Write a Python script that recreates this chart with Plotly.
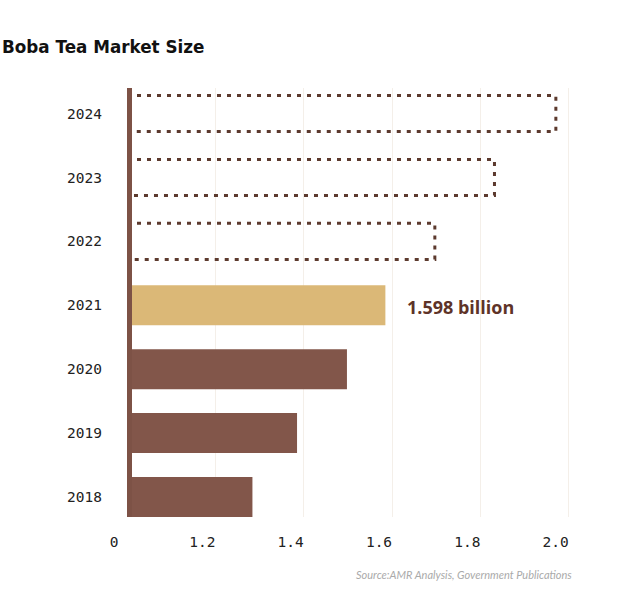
import plotly.graph_objects as go

years = ["2018", "2019", "2020", "2021", "2022", "2023", "2024"]
values = [1.284, 1.385, 1.498, 1.585, 1.697, 1.832, 1.971]
projected = [False, False, False, False, True, True, True]
bar_colors = ["#82564a", "#82564a", "#82564a", "#dbb877"]
tick_vals = [1.0, 1.2, 1.4, 1.6, 1.8, 2.0]
tick_text = ["0", "1.2", "1.4", "1.6", "1.8", "2.0"]
highlight_label = "1.598 billion"
title = "Boba Tea Market Size"
source = "Source:AMR Analysis, Government Publications"

DOT = "#5c3a2e"
BAR_W = 0.626
RECT_H = 0.282

idx = list(range(len(years)))
actual_idx = [i for i in idx if not projected[i]]
proj_idx = [i for i in idx if projected[i]]

fig = go.Figure()
fig.add_trace(go.Bar(
    y=actual_idx, x=[values[i] for i in actual_idx], orientation="h",
    marker=dict(color=bar_colors, line=dict(width=0)), width=BAR_W,
    hoverinfo="skip", showlegend=False,
))
for i in proj_idx:
    v = values[i]
    fig.add_trace(go.Scatter(
        x=[1.0, v, v, 1.0], y=[i + RECT_H, i + RECT_H, i - RECT_H, i - RECT_H],
        mode="lines", line=dict(color=DOT, width=3, dash="4px,6px"),
        hoverinfo="skip", showlegend=False,
    ))

# axis line
fig.add_shape(type="line", xref="x", xsizemode="pixel", xanchor=1.0, x0=2, x1=2,
              yref="paper", y0=0, y1=1, line=dict(color="#7d5246", width=6), layer="above")

i21 = years.index("2021")
fig.add_annotation(x=values[i21], y=i21, xref="x", yref="y", text=highlight_label,
                   showarrow=False, xanchor="left", yanchor="middle", xshift=20, yshift=-2,
                   font=dict(family="Open Sans", size=18, color="#5e3328", weight=700))

fig.add_annotation(x=0.937, y=-0.133, xref="paper", yref="paper", text=source,
                   showarrow=False, xanchor="right", yanchor="middle",
                   font=dict(family="Lato", size=11, color="#aaaaaa", style="italic"))

fig.update_layout(
    width=644, height=592,
    margin=dict(l=127, r=40, t=88, b=75),
    paper_bgcolor="white", plot_bgcolor="white",
    title=dict(text=title, xref="container", yref="container", x=0.003, y=1 - 47 / 592,
               xanchor="left", yanchor="middle",
               font=dict(family="DejaVu Sans", size=16.8, color="#111111", weight=700)),
    bargap=0.37,
    xaxis=dict(range=[1.0, 2.08], tickvals=tick_vals, ticktext=tick_text,
               showgrid=True, gridcolor="#f4efe9", gridwidth=1, zeroline=False,
               showline=False, ticks="", ticklabelshift=-13, ticklabelstandoff=14,
               tickfont=dict(family="DejaVu Sans Mono", size=14.5, color="#222222")),
    yaxis=dict(range=[-0.313, 6.40], tickvals=idx, ticktext=years,
               showgrid=False, zeroline=False, showline=False, ticks="",
               ticklabelstandoff=24,
               tickfont=dict(family="DejaVu Sans Mono", size=14.5, color="#222222")),
)

fig.write_html("out.html", config={"displayModeBar": False},
               post_script="document.body.style.margin='0';")
